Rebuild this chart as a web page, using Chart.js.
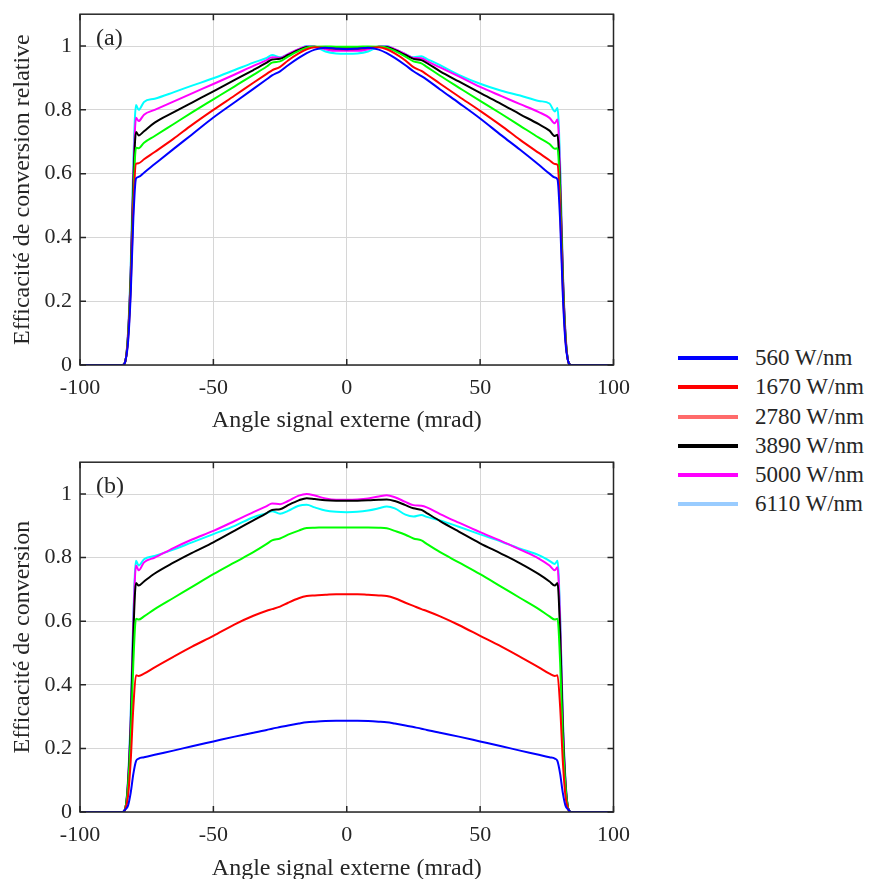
<!DOCTYPE html>
<html>
<head>
<meta charset="utf-8">
<script src="https://cdn.jsdelivr.net/npm/chart.js@4.4.1/dist/chart.umd.min.js"></script>
<style>
  html, body { margin: 0; padding: 0; background: #fff; overflow: hidden; }
  body { width: 872px; height: 879px; position: relative; }
  .panel { position: absolute; left: 0; }
  #legend { position: absolute; left: 678px; top: 343px; font-family: "Liberation Serif", "Times New Roman", serif; font-size: 23px; color: #262626; }
  #legend .row { position: relative; height: 29.3px; line-height: 29.3px; white-space: nowrap; }
  #legend .swatch { position: absolute; left: 0; top: 13px; width: 60px; height: 4px; }
  #legend .txt { position: absolute; left: 77px; top: 0; }
</style>
</head>
<body>
<div class="panel" style="top:-7px"><canvas id="chartA" width="640" height="447"></canvas></div>
<div class="panel" style="top:441px"><canvas id="chartB" width="640" height="442"></canvas></div>
<div id="legend"></div>
<script>
// shared x positions (mrad)
const angles = [-100,-86,-84,-83,-82,-81,-80,-79,-78,-76,-72,-65,-58,-50,-42,-35,-30,-28,-25,-22,-18,-15,-12,-8,-4,0,4,8,12,15,18,22,25,28,30,35,42,50,58,65,72,76,78,79,80,81,82,83,84,86,100];

// panel (a) - relative efficiency
const blueA = [0,0,0,0.012,0.07,0.22,0.46,0.585,0.59,0.603,0.63,0.677,0.723,0.776,0.824,0.866,0.896,0.908,0.921,0.94,0.963,0.978,0.989,0.995,0.992,0.99,0.992,0.995,0.989,0.978,0.963,0.94,0.921,0.906,0.895,0.864,0.822,0.773,0.72,0.675,0.628,0.6,0.588,0.582,0.45,0.22,0.07,0.012,0,0,0];
const redA = [0,0,0,0.012,0.08,0.24,0.5,0.631,0.633,0.645,0.668,0.709,0.753,0.8,0.845,0.885,0.913,0.924,0.935,0.955,0.977,0.99,0.996,0.994,0.991,0.99,0.991,0.994,0.996,0.99,0.977,0.955,0.934,0.922,0.911,0.882,0.842,0.797,0.75,0.706,0.665,0.642,0.63,0.628,0.49,0.24,0.08,0.012,0,0,0];
const greenA = [0,0,0,0.012,0.09,0.26,0.53,0.681,0.68,0.697,0.718,0.755,0.792,0.833,0.874,0.91,0.936,0.948,0.952,0.967,0.985,0.995,0.998,0.999,0.998,0.998,0.998,0.999,0.998,0.995,0.985,0.967,0.952,0.946,0.935,0.907,0.87,0.828,0.787,0.75,0.713,0.693,0.678,0.68,0.53,0.26,0.09,0.012,0,0,0];
const blackA = [0,0,0,0.012,0.09,0.28,0.57,0.731,0.72,0.733,0.76,0.792,0.823,0.858,0.894,0.925,0.948,0.958,0.96,0.972,0.988,0.997,0.998,0.995,0.993,0.993,0.993,0.995,0.998,0.997,0.988,0.972,0.96,0.956,0.947,0.921,0.889,0.853,0.818,0.786,0.755,0.735,0.718,0.722,0.56,0.28,0.09,0.012,0,0,0];
const magentaA = [0,0,0,0.012,0.1,0.29,0.6,0.775,0.765,0.785,0.8,0.826,0.852,0.881,0.911,0.938,0.956,0.965,0.963,0.975,0.99,0.999,0.998,0.99,0.985,0.985,0.985,0.99,0.998,0.999,0.99,0.975,0.963,0.962,0.953,0.933,0.905,0.872,0.843,0.818,0.793,0.775,0.758,0.77,0.6,0.29,0.1,0.012,0,0,0];
const cyanA = [0,0,0,0.012,0.1,0.31,0.64,0.815,0.8,0.825,0.835,0.855,0.876,0.899,0.925,0.948,0.963,0.972,0.965,0.975,0.99,1.0,0.998,0.983,0.977,0.976,0.977,0.983,0.998,1.0,0.99,0.975,0.965,0.968,0.96,0.94,0.91,0.882,0.86,0.845,0.828,0.82,0.795,0.806,0.63,0.3,0.1,0.012,0,0,0];

// panel (b) - absolute efficiency
const blueB = [0,0,0,0.008,0.02,0.06,0.12,0.16,0.168,0.172,0.18,0.193,0.207,0.222,0.237,0.249,0.258,0.262,0.267,0.272,0.278,0.282,0.284,0.286,0.287,0.287,0.287,0.286,0.284,0.282,0.278,0.272,0.267,0.262,0.258,0.249,0.237,0.222,0.207,0.193,0.18,0.172,0.168,0.16,0.12,0.06,0.02,0.008,0,0,0];
const redB = [0,0,0,0.01,0.05,0.16,0.33,0.43,0.428,0.435,0.455,0.488,0.52,0.554,0.59,0.617,0.633,0.638,0.646,0.658,0.672,0.679,0.681,0.683,0.685,0.685,0.685,0.683,0.681,0.679,0.672,0.658,0.648,0.638,0.632,0.615,0.588,0.554,0.52,0.488,0.455,0.435,0.428,0.43,0.33,0.16,0.05,0.01,0,0,0];
const greenB = [0,0,0,0.012,0.08,0.23,0.47,0.608,0.605,0.615,0.638,0.673,0.708,0.748,0.785,0.817,0.843,0.854,0.86,0.872,0.885,0.893,0.894,0.895,0.895,0.895,0.895,0.895,0.894,0.892,0.884,0.872,0.86,0.854,0.843,0.817,0.785,0.748,0.708,0.673,0.638,0.615,0.605,0.608,0.47,0.23,0.08,0.012,0,0,0];
const blackB = [0,0,0,0.012,0.09,0.27,0.56,0.72,0.712,0.725,0.75,0.784,0.815,0.848,0.885,0.917,0.94,0.95,0.952,0.965,0.98,0.987,0.984,0.98,0.979,0.979,0.979,0.98,0.982,0.983,0.978,0.965,0.955,0.95,0.94,0.915,0.882,0.845,0.812,0.782,0.748,0.725,0.712,0.72,0.56,0.27,0.09,0.012,0,0,0];
const magentaB = [0,0,0,0.012,0.1,0.29,0.6,0.775,0.76,0.785,0.8,0.83,0.857,0.884,0.915,0.943,0.962,0.97,0.968,0.978,0.995,1.0,0.995,0.986,0.982,0.982,0.983,0.986,0.992,0.996,0.99,0.975,0.965,0.963,0.958,0.937,0.91,0.88,0.852,0.825,0.797,0.775,0.76,0.77,0.6,0.29,0.1,0.012,0,0,0];
const cyanB = [0,0,0,0.012,0.1,0.31,0.62,0.79,0.775,0.795,0.805,0.825,0.848,0.874,0.9,0.927,0.94,0.946,0.938,0.947,0.963,0.966,0.958,0.948,0.944,0.943,0.944,0.948,0.955,0.961,0.955,0.935,0.929,0.934,0.928,0.917,0.897,0.873,0.85,0.828,0.808,0.79,0.78,0.79,0.62,0.3,0.1,0.012,0,0,0];

const lineColors = ['#0000ff', '#ff0000', '#00ff00', '#000000', '#ff00ff', '#00ffff'];
const legendLabels = ['560 W/nm', '1670 W/nm', '2780 W/nm', '3890 W/nm', '5000 W/nm', '6110 W/nm'];
const legendColors = ['#0000ff', '#ff0000', '#ff6b6b', '#000000', '#ff00ff', '#99ccff'];
const xTicks = [-100, -50, 0, 50, 100];
const yTicks = [0, 0.2, 0.4, 0.6, 0.8, 1];

const serif = '"Liberation Serif", "Times New Roman", serif';
const textColor = '#262626';

// box around the plot, inward tick marks and the panel letter
const framePlugin = {
  id: 'frame',
  afterDraw(chart, args, opts) {
    const { ctx, chartArea: a, scales: { x, y } } = chart;
    ctx.save();
    ctx.strokeStyle = textColor;
    ctx.lineWidth = 1.5;
    ctx.strokeRect(a.left, a.top, a.right - a.left, a.bottom - a.top);
    const len = 6;
    ctx.beginPath();
    xTicks.forEach(v => {
      const px = x.getPixelForValue(v);
      ctx.moveTo(px, a.bottom); ctx.lineTo(px, a.bottom - len);
      ctx.moveTo(px, a.top); ctx.lineTo(px, a.top + len);
    });
    yTicks.forEach(v => {
      const py = y.getPixelForValue(v);
      ctx.moveTo(a.left, py); ctx.lineTo(a.left + len, py);
      ctx.moveTo(a.right, py); ctx.lineTo(a.right - len, py);
    });
    ctx.stroke();
    ctx.fillStyle = textColor;
    ctx.font = '24px ' + serif;
    ctx.textBaseline = 'alphabetic';
    ctx.fillText(opts.label, a.left + 16, a.top + 31);
    ctx.restore();
  }
};

function makeChart(id, series, yTitle, label, xAxisHeight, xTitlePad) {
  new Chart(document.getElementById(id), {
    type: 'line',
    data: {
      datasets: series.map((vals, i) => ({
        data: angles.map((a, j) => ({ x: a, y: vals[j] })),
        borderColor: lineColors[i],
        borderWidth: 2,
        pointRadius: 0,
        tension: 0.4,
        cubicInterpolationMode: 'monotone',
        fill: false
      }))
    },
    options: {
      responsive: false,
      animation: false,
      layout: { padding: { top: 13, right: 26, left: 0, bottom: 0 } },
      plugins: { legend: { display: false }, tooltip: { enabled: false }, frame: { label } },
      scales: {
        x: {
          type: 'linear', min: -100, max: 100,
          afterFit: s => { s.height = xAxisHeight; },
          border: { display: false },
          grid: { color: '#d6d6d6', lineWidth: 1, drawTicks: false },
          ticks: { stepSize: 50, padding: 10, color: textColor, font: { family: serif, size: 22 }, maxRotation: 0 },
          title: { display: true, text: 'Angle signal externe (mrad)', color: textColor, font: { family: serif, size: 24 }, padding: { top: 0, bottom: xTitlePad } }
        },
        y: {
          min: 0, max: 1.1,
          afterFit: s => { s.width = 80; },
          border: { display: false },
          grid: { color: '#d6d6d6', lineWidth: 1, drawTicks: false },
          ticks: { stepSize: 0.2, includeBounds: false, padding: 8, color: textColor, font: { family: serif, size: 22 }, callback: v => String(+v.toFixed(1)) },
          title: { display: true, text: yTitle, color: textColor, font: { family: serif, size: 24 }, padding: { top: 8, bottom: 0 } }
        }
      }
    },
    plugins: [framePlugin]
  });
}

makeChart('chartA', [blueA, redA, greenA, blackA, magentaA, cyanA], 'Efficacité de conversion relative', '(a)', 75, 5);
makeChart('chartB', [blueB, redB, greenB, blackB, magentaB, cyanB], 'Efficacité de conversion', '(b)', 71, 0);

const legend = document.getElementById('legend');
legendLabels.forEach((t, i) => {
  const row = document.createElement('div');
  row.className = 'row';
  row.innerHTML = '<span class="swatch" style="background:' + legendColors[i] + '"></span><span class="txt">' + t + '</span>';
  legend.appendChild(row);
});
</script>
</body>
</html>
